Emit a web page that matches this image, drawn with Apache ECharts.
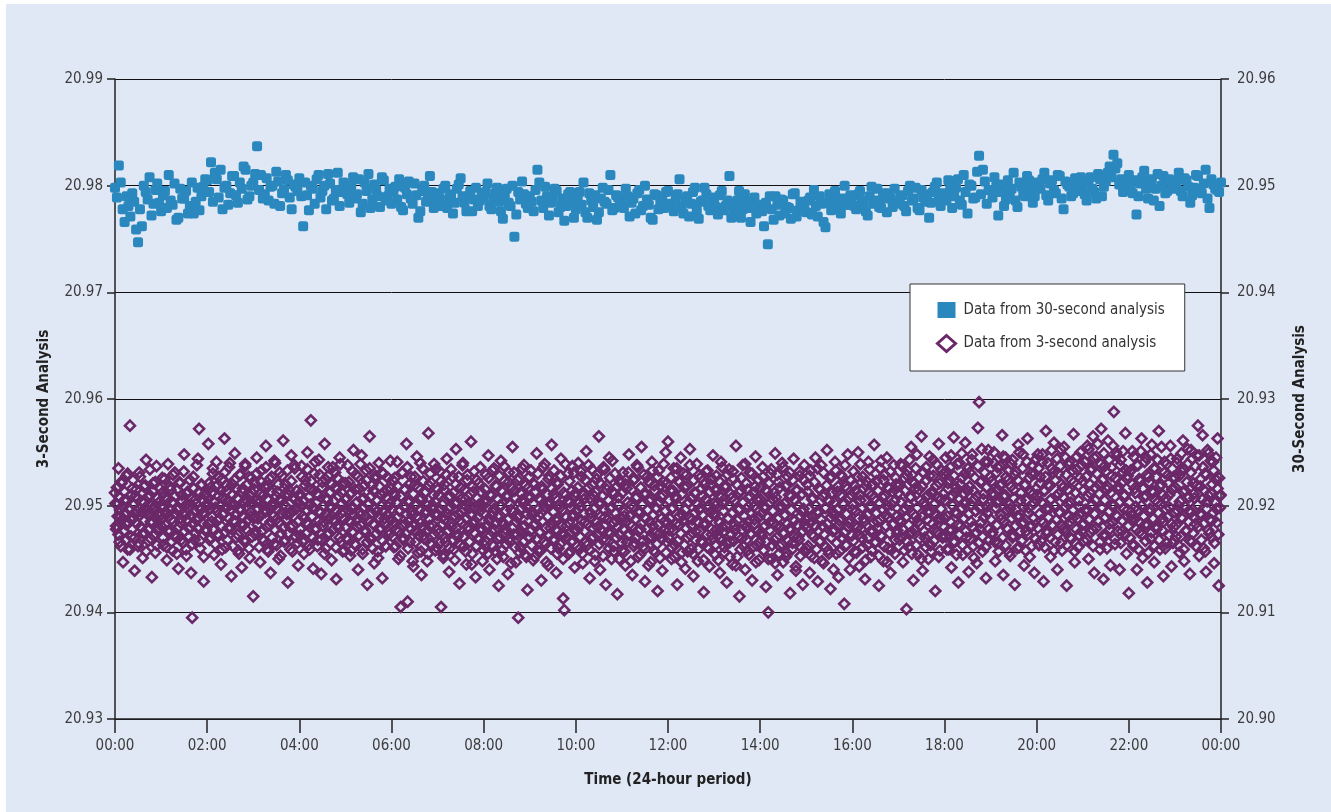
<!DOCTYPE html>
<html>
<head>
<meta charset="utf-8">
<script src="https://cdn.jsdelivr.net/npm/echarts@6/dist/echarts.min.js"></script>
<style>
html,body{margin:0;padding:0;background:#ffffff;}
#wrap{position:absolute;left:6px;top:4px;width:1325px;height:808px;background:#e1e8f5;}
#chart{position:absolute;left:-6px;top:-4px;width:1331px;height:812px;}
</style>
</head>
<body>
<div id="wrap"><div id="chart"></div></div>
<script>
// Sampling of the values (hours)
const blueStepHours = 5 / 60;        // 30-second analysis, run A: every 5 min from 00:00
const blueStepHoursB = 5 / 60;       // 30-second analysis, run B: every 5 min from 00:02:30
const blueStartB = 2.5 / 60;
const purpleStepHours = 1.5 / 60;    // 3-second analysis, scattered envelope
const purpleStepHoursB = 1 / 60;     // 3-second analysis, dense core, from 00:00:30
const purpleStartB = 0.5 / 60;

// Data from 30-second analysis (right axis), set A
const thirtySecondValues = [
20.9498,20.9519,20.9478,20.9490,20.9471,20.9485,20.9447,20.9462,20.9494,20.9508,20.9483,20.9502,
20.9476,20.9495,20.9510,20.9482,20.9468,20.9497,20.9488,20.9474,20.9503,20.9485,20.9477,20.9499,
20.9505,20.9522,20.9512,20.9489,20.9478,20.9500,20.9493,20.9509,20.9484,20.9497,20.9515,20.9490,
20.9503,20.9537,20.9510,20.9492,20.9486,20.9500,20.9513,20.9481,20.9496,20.9505,20.9478,20.9499,
20.9507,20.9462,20.9491,20.9500,20.9483,20.9510,20.9495,20.9478,20.9502,20.9488,20.9512,20.9494,
20.9498,20.9484,20.9508,20.9492,20.9475,20.9503,20.9511,20.9487,20.9496,20.9480,20.9505,20.9490,
20.9483,20.9499,20.9506,20.9477,20.9492,20.9488,20.9502,20.9470,20.9495,20.9485,20.9509,20.9479,
20.9493,20.9481,20.9500,20.9488,20.9474,20.9497,20.9507,20.9484,20.9490,20.9476,20.9498,20.9486,
20.9489,20.9502,20.9478,20.9493,20.9485,20.9469,20.9497,20.9481,20.9452,20.9494,20.9504,20.9483,
20.9490,20.9476,20.9515,20.9486,20.9499,20.9472,20.9488,20.9495,20.9480,20.9467,20.9492,20.9484,
20.9478,20.9494,20.9503,20.9470,20.9486,20.9491,20.9475,20.9498,20.9483,20.9510,20.9479,20.9489,
20.9484,20.9497,20.9471,20.9488,20.9493,20.9477,20.9500,20.9482,20.9468,20.9491,20.9485,20.9479,
20.9495,20.9481,20.9487,20.9506,20.9474,20.9490,20.9483,20.9498,20.9469,20.9486,20.9492,20.9477,
20.9488,20.9473,20.9495,20.9481,20.9509,20.9476,20.9486,20.9470,20.9492,20.9479,20.9485,20.9474,
20.9482,20.9462,20.9445,20.9478,20.9490,20.9472,20.9486,20.9480,20.9469,20.9493,20.9477,20.9484,
20.9475,20.9489,20.9496,20.9471,20.9483,20.9461,20.9492,20.9480,20.9487,20.9474,20.9500,20.9482,
20.9490,20.9478,20.9495,20.9484,20.9472,20.9499,20.9486,20.9480,20.9493,20.9475,20.9488,20.9497,
20.9483,20.9491,20.9476,20.9500,20.9488,20.9479,20.9496,20.9485,20.9470,20.9494,20.9503,20.9481,
20.9492,20.9505,20.9479,20.9498,20.9486,20.9510,20.9474,20.9500,20.9489,20.9528,20.9515,20.9483,
20.9496,20.9508,20.9472,20.9501,20.9487,20.9493,20.9512,20.9480,20.9499,20.9490,20.9505,20.9484,
20.9503,20.9497,20.9512,20.9486,20.9505,20.9493,20.9509,20.9478,20.9501,20.9490,20.9507,20.9495,
20.9499,20.9486,20.9508,20.9494,20.9511,20.9490,20.9504,20.9518,20.9529,20.9521,20.9506,20.9497,
20.9510,20.9493,20.9473,20.9502,20.9514,20.9488,20.9506,20.9497,20.9481,20.9509,20.9495,20.9503,
20.9500,20.9512,20.9490,20.9505,20.9484,20.9498,20.9509,20.9493,20.9515,20.9479,20.9501,20.9496,
20.9503
];

// Data from 30-second analysis (right axis), set B
const thirtySecondValuesB = [
20.9489,20.9503,20.9466,20.9481,20.9493,20.9459,20.9478,20.9500,20.9487,20.9472,20.9496,20.9484,
20.9491,20.9479,20.9486,20.9502,20.9470,20.9488,20.9495,20.9481,20.9474,20.9498,20.9490,20.9506,
20.9494,20.9485,20.9506,20.9515,20.9498,20.9482,20.9509,20.9491,20.9503,20.9518,20.9487,20.9500,
20.9511,20.9496,20.9488,20.9507,20.9499,20.9483,20.9504,20.9493,20.9510,20.9489,20.9501,20.9495,
20.9490,20.9503,20.9477,20.9497,20.9506,20.9489,20.9500,20.9511,20.9486,20.9496,20.9481,20.9503,
20.9492,20.9500,20.9488,20.9506,20.9483,20.9495,20.9479,20.9501,20.9490,20.9508,20.9486,20.9497,
20.9495,20.9487,20.9480,20.9498,20.9504,20.9483,20.9491,20.9476,20.9500,20.9489,20.9494,20.9485,
20.9488,20.9497,20.9479,20.9492,20.9484,20.9501,20.9490,20.9476,20.9495,20.9487,20.9481,20.9493,
20.9494,20.9481,20.9488,20.9498,20.9476,20.9490,20.9484,20.9500,20.9473,20.9487,20.9492,20.9479,
20.9485,20.9496,20.9503,20.9479,20.9490,20.9484,20.9497,20.9475,20.9488,20.9481,20.9494,20.9470,
20.9490,20.9482,20.9475,20.9493,20.9480,20.9468,20.9488,20.9485,20.9496,20.9477,20.9491,20.9483,
20.9479,20.9490,20.9484,20.9474,20.9496,20.9481,20.9487,20.9470,20.9492,20.9478,20.9486,20.9494,
20.9483,20.9476,20.9492,20.9480,20.9488,20.9471,20.9494,20.9477,20.9485,20.9498,20.9481,20.9489,
20.9480,20.9491,20.9477,20.9486,20.9470,20.9483,20.9495,20.9478,20.9484,20.9466,20.9489,20.9481,
20.9476,20.9484,20.9490,20.9468,20.9482,20.9487,20.9474,20.9479,20.9492,20.9471,20.9485,20.9478,
20.9486,20.9473,20.9481,20.9490,20.9466,20.9484,20.9477,20.9495,20.9479,20.9488,20.9482,20.9491,
20.9481,20.9492,20.9486,20.9476,20.9490,20.9483,20.9497,20.9479,20.9488,20.9493,20.9480,20.9485,
20.9490,20.9481,20.9495,20.9486,20.9498,20.9477,20.9489,20.9492,20.9484,20.9499,20.9487,20.9493,
20.9486,20.9497,20.9490,20.9506,20.9482,20.9494,20.9501,20.9488,20.9513,20.9492,20.9504,20.9496,
20.9489,20.9500,20.9494,20.9481,20.9505,20.9497,20.9486,20.9503,20.9492,20.9509,20.9498,20.9490,
20.9498,20.9506,20.9491,20.9502,20.9496,20.9510,20.9488,20.9504,20.9499,20.9493,20.9501,20.9508,
20.9492,20.9503,20.9497,20.9488,20.9506,20.9499,20.9512,20.9508,20.9516,20.9501,20.9494,20.9505,
20.9498,20.9505,20.9490,20.9508,20.9497,20.9502,20.9486,20.9511,20.9500,20.9493,20.9506,20.9497,
20.9504,20.9495,20.9507,20.9499,20.9491,20.9510,20.9496,20.9502,20.9488,20.9506,20.9497,20.9494
];

// Data from 3-second analysis (left axis), scattered envelope, every 1.5 min
const threeSecondValues = [
20.9512,20.9478,20.9501,20.9535,20.9466,20.9490,20.9523,20.9447,20.9505,20.9483,20.9528,20.9459,20.9497,20.9575,20.9471,20.9516,20.9488,20.9439,20.9509,20.9495,20.9462,20.9531,20.9480,20.9504,20.9451,20.9518,20.9474,20.9543,20.9492,20.9467,20.9510,20.9485,20.9433,20.9521,20.9499,20.9456,20.9537,20.9477,20.9503,20.9490,
20.9481,20.9526,20.9463,20.9508,20.9494,20.9449,20.9539,20.9475,20.9515,20.9487,20.9458,20.9502,20.9531,20.9470,20.9496,20.9441,20.9522,20.9484,20.9510,20.9465,20.9548,20.9491,20.9453,20.9513,20.9479,20.9500,20.9437,20.9395,20.9527,20.9468,20.9506,20.9486,20.9544,20.9572,20.9460,20.9519,20.9493,20.9429,20.9511,20.9476,
20.9502,20.9558,20.9468,20.9517,20.9485,20.9530,20.9454,20.9498,20.9541,20.9473,20.9509,20.9488,20.9445,20.9525,20.9492,20.9563,20.9461,20.9514,20.9479,20.9536,20.9501,20.9434,20.9520,20.9486,20.9549,20.9470,20.9507,20.9458,20.9529,20.9495,20.9442,20.9516,20.9482,20.9539,20.9467,20.9504,20.9527,20.9451,20.9490,20.9512,
20.9415,20.9521,20.9476,20.9545,20.9488,20.9503,20.9447,20.9533,20.9469,20.9510,20.9496,20.9556,20.9459,20.9518,20.9482,20.9437,20.9527,20.9499,20.9464,20.9540,20.9487,20.9513,20.9450,20.9531,20.9474,20.9505,20.9561,20.9466,20.9520,20.9492,20.9428,20.9515,20.9480,20.9547,20.9457,20.9508,20.9535,20.9471,20.9498,20.9444,
20.9509,20.9472,20.9537,20.9490,20.9455,20.9524,20.9484,20.9550,20.9463,20.9516,20.9580,20.9498,20.9441,20.9530,20.9477,20.9511,20.9468,20.9543,20.9493,20.9436,20.9522,20.9485,20.9558,20.9460,20.9505,20.9528,20.9474,20.9500,20.9449,20.9536,20.9487,20.9517,20.9431,20.9526,20.9479,20.9545,20.9466,20.9512,20.9495,20.9458,
20.9521,20.9470,20.9538,20.9486,20.9453,20.9512,20.9497,20.9552,20.9464,20.9529,20.9480,20.9440,20.9516,20.9491,20.9547,20.9459,20.9507,20.9475,20.9533,20.9426,20.9502,20.9565,20.9468,20.9519,20.9483,20.9446,20.9525,20.9494,20.9457,20.9540,20.9477,20.9510,20.9432,20.9530,20.9488,20.9462,20.9515,20.9499,20.9473,20.9542,
20.9487,20.9524,20.9461,20.9509,20.9478,20.9541,20.9450,20.9496,20.9405,20.9531,20.9470,20.9515,20.9483,20.9558,20.9410,20.9503,20.9466,20.9527,20.9491,20.9443,20.9519,20.9476,20.9546,20.9456,20.9506,20.9484,20.9435,20.9535,20.9472,20.9512,20.9495,20.9448,20.9568,20.9481,20.9522,20.9463,20.9500,20.9539,20.9458,20.9493,
20.9515,20.9474,20.9532,20.9405,20.9489,20.9451,20.9520,20.9466,20.9544,20.9497,20.9438,20.9509,20.9480,20.9527,20.9459,20.9502,20.9553,20.9471,20.9492,20.9427,20.9517,20.9484,20.9540,20.9462,20.9506,20.9445,20.9529,20.9477,20.9498,20.9560,20.9455,20.9513,20.9486,20.9433,20.9524,20.9469,20.9501,20.9536,20.9479,20.9448,
20.9504,20.9463,20.9529,20.9482,20.9547,20.9440,20.9511,20.9476,20.9494,20.9535,20.9457,20.9518,20.9469,20.9425,20.9500,20.9542,20.9485,20.9452,20.9523,20.9478,20.9508,20.9436,20.9531,20.9466,20.9496,20.9555,20.9473,20.9514,20.9447,20.9489,20.9395,20.9526,20.9461,20.9505,20.9480,20.9538,20.9454,20.9499,20.9421,20.9517,
20.9470,20.9533,20.9491,20.9449,20.9520,20.9483,20.9549,20.9458,20.9507,20.9475,20.9430,20.9515,20.9496,20.9539,20.9464,20.9502,20.9444,20.9528,20.9479,20.9557,20.9468,20.9511,20.9487,20.9437,20.9522,20.9460,20.9498,20.9544,20.9473,20.9413,20.9402,20.9510,20.9481,20.9530,20.9455,20.9503,20.9466,20.9537,20.9490,20.9442,
20.9512,20.9477,20.9540,20.9459,20.9499,20.9527,20.9446,20.9506,20.9485,20.9551,20.9463,20.9517,20.9432,20.9493,20.9534,20.9471,20.9509,20.9454,20.9525,20.9480,20.9565,20.9440,20.9502,20.9468,20.9536,20.9489,20.9426,20.9519,20.9475,20.9545,20.9497,20.9450,20.9513,20.9462,20.9530,20.9486,20.9417,20.9508,20.9473,20.9521,
20.9458,20.9531,20.9490,20.9444,20.9516,20.9472,20.9548,20.9483,20.9501,20.9435,20.9524,20.9465,20.9507,20.9538,20.9452,20.9495,20.9478,20.9555,20.9461,20.9511,20.9429,20.9488,20.9527,20.9469,20.9504,20.9447,20.9541,20.9481,20.9519,20.9456,20.9497,20.9420,20.9533,20.9474,20.9508,20.9439,20.9522,20.9485,20.9550,20.9466,
20.9560,20.9477,20.9514,20.9450,20.9498,20.9535,20.9463,20.9506,20.9426,20.9523,20.9482,20.9545,20.9456,20.9491,20.9517,20.9441,20.9529,20.9470,20.9503,20.9553,20.9459,20.9487,20.9434,20.9512,20.9476,20.9539,20.9448,20.9496,20.9526,20.9467,20.9509,20.9419,20.9484,20.9532,20.9461,20.9500,20.9443,20.9520,20.9473,20.9547,
20.9493,20.9454,20.9528,20.9472,20.9510,20.9437,20.9541,20.9480,20.9502,20.9461,20.9519,20.9428,20.9488,20.9534,20.9466,20.9507,20.9445,20.9525,20.9477,20.9556,20.9452,20.9496,20.9415,20.9514,20.9469,20.9538,20.9483,20.9440,20.9521,20.9458,20.9499,20.9531,20.9474,20.9430,20.9512,20.9487,20.9546,20.9463,20.9505,20.9449,
20.9517,20.9475,20.9536,20.9458,20.9497,20.9424,20.9513,20.9400,20.9484,20.9530,20.9450,20.9506,20.9468,20.9549,20.9481,20.9435,20.9522,20.9462,20.9500,20.9540,20.9447,20.9491,20.9518,20.9456,20.9527,20.9478,20.9418,20.9509,20.9465,20.9544,20.9486,20.9439,20.9515,20.9471,20.9532,20.9453,20.9495,20.9426,20.9524,20.9482,
20.9460,20.9520,20.9489,20.9437,20.9533,20.9473,20.9507,20.9451,20.9545,20.9494,20.9429,20.9516,20.9467,20.9538,20.9481,20.9446,20.9511,20.9498,20.9552,20.9458,20.9504,20.9422,20.9527,20.9476,20.9491,20.9541,20.9455,20.9513,20.9433,20.9486,20.9529,20.9470,20.9502,20.9408,20.9518,20.9463,20.9548,20.9484,20.9440,20.9510,
20.9496,20.9532,20.9457,20.9514,20.9479,20.9550,20.9443,20.9505,20.9470,20.9527,20.9488,20.9431,20.9519,20.9463,20.9541,20.9499,20.9452,20.9510,20.9476,20.9557,20.9466,20.9523,20.9485,20.9425,20.9535,20.9472,20.9508,20.9448,20.9529,20.9491,20.9545,20.9460,20.9516,20.9437,20.9501,20.9482,20.9538,20.9455,20.9520,20.9474,
20.9512,20.9468,20.9539,20.9485,20.9447,20.9526,20.9497,20.9403,20.9533,20.9461,20.9508,20.9555,20.9475,20.9430,20.9521,20.9490,20.9548,20.9454,20.9515,20.9482,20.9565,20.9439,20.9503,20.9470,20.9536,20.9494,20.9450,20.9528,20.9463,20.9511,20.9543,20.9478,20.9420,20.9519,20.9487,20.9558,20.9458,20.9506,20.9472,20.9530,
20.9488,20.9545,20.9459,20.9521,20.9477,20.9536,20.9442,20.9509,20.9564,20.9466,20.9517,20.9493,20.9428,20.9540,20.9481,20.9526,20.9454,20.9502,20.9559,20.9470,20.9514,20.9438,20.9531,20.9485,20.9548,20.9462,20.9506,20.9495,20.9446,20.9573,20.9597,20.9478,20.9523,20.9457,20.9511,20.9541,20.9432,20.9499,20.9552,20.9468,
20.9527,20.9473,20.9512,20.9550,20.9448,20.9503,20.9536,20.9465,20.9519,20.9487,20.9566,20.9435,20.9508,20.9545,20.9479,20.9524,20.9456,20.9497,20.9539,20.9470,20.9515,20.9426,20.9532,20.9490,20.9557,20.9461,20.9505,20.9483,20.9548,20.9444,20.9520,20.9476,20.9563,20.9498,20.9452,20.9530,20.9481,20.9511,20.9437,20.9543,
20.9505,20.9548,20.9463,20.9527,20.9486,20.9541,20.9429,20.9514,20.9570,20.9474,20.9520,20.9497,20.9452,20.9535,20.9481,20.9559,20.9466,20.9509,20.9440,20.9530,20.9493,20.9553,20.9458,20.9517,20.9479,20.9545,20.9425,20.9502,20.9538,20.9470,20.9524,20.9488,20.9567,20.9447,20.9512,20.9534,20.9461,20.9499,20.9550,20.9476,
20.9523,20.9467,20.9541,20.9494,20.9556,20.9450,20.9512,20.9533,20.9478,20.9565,20.9437,20.9505,20.9546,20.9486,20.9520,20.9459,20.9572,20.9498,20.9431,20.9537,20.9472,20.9515,20.9561,20.9483,20.9444,20.9528,20.9501,20.9588,20.9464,20.9550,20.9490,20.9518,20.9440,20.9543,20.9476,20.9531,20.9509,20.9568,20.9455,20.9496,
20.9418,20.9532,20.9487,20.9551,20.9462,20.9516,20.9499,20.9440,20.9538,20.9475,20.9523,20.9563,20.9451,20.9508,20.9482,20.9545,20.9428,20.9527,20.9494,20.9469,20.9557,20.9512,20.9447,20.9535,20.9478,20.9503,20.9570,20.9459,20.9520,20.9488,20.9434,20.9541,20.9497,20.9465,20.9529,20.9510,20.9556,20.9443,20.9516,20.9480,
20.9526,20.9471,20.9544,20.9500,20.9456,20.9533,20.9489,20.9561,20.9448,20.9514,20.9477,20.9539,20.9495,20.9436,20.9552,20.9466,20.9521,20.9507,20.9483,20.9547,20.9575,20.9453,20.9518,20.9491,20.9566,20.9460,20.9530,20.9438,20.9504,20.9549,20.9474,20.9512,20.9486,20.9541,20.9446,20.9525,20.9497,20.9563,20.9425,20.9509
];

// Data from 3-second analysis (left axis), dense core, every 1 min
const threeSecondValuesB = [
20.9502,20.9481,20.9517,20.9490,20.9473,20.9508,20.9496,20.9462,20.9521,20.9487,20.9499,20.9476,20.9513,20.9493,20.9468,20.9505,20.9530,20.9484,20.9497,20.9459,20.9510,20.9489,20.9478,20.9524,20.9501,20.9470,20.9492,20.9515,20.9483,20.9506,20.9465,20.9498,20.9527,20.9480,20.9494,20.9511,20.9474,20.9503,20.9486,20.9519,20.9457,20.9495,20.9508,20.9477,20.9491,20.9534,20.9469,20.9500,20.9485,20.9514,20.9472,20.9497,20.9522,20.9488,20.9463,20.9507,20.9493,20.9479,20.9516,20.9499,
20.9487,20.9512,20.9470,20.9499,20.9525,20.9482,20.9494,20.9461,20.9506,20.9490,20.9477,20.9518,20.9496,20.9466,20.9503,20.9529,20.9485,20.9473,20.9509,20.9492,20.9455,20.9515,20.9498,20.9480,20.9521,20.9488,20.9468,20.9504,20.9493,20.9532,20.9476,20.9500,20.9459,20.9511,20.9486,20.9497,20.9471,20.9524,20.9491,20.9507,20.9464,20.9483,20.9516,20.9495,20.9474,20.9502,20.9538,20.9479,20.9489,20.9513,20.9467,20.9496,20.9520,20.9484,20.9505,20.9452,20.9493,20.9510,20.9478,20.9499,
20.9508,20.9483,20.9521,20.9497,20.9470,20.9512,20.9490,20.9535,20.9477,20.9503,20.9464,20.9518,20.9495,20.9486,20.9527,20.9472,20.9500,20.9514,20.9481,20.9459,20.9507,20.9493,20.9531,20.9475,20.9498,20.9519,20.9468,20.9505,20.9488,20.9540,20.9479,20.9496,20.9510,20.9462,20.9501,20.9524,20.9485,20.9492,20.9516,20.9473,20.9506,20.9455,20.9497,20.9529,20.9482,20.9513,20.9490,20.9467,20.9503,20.9537,20.9478,20.9499,20.9520,20.9487,20.9460,20.9509,20.9494,20.9526,20.9471,20.9502,
20.9489,20.9515,20.9473,20.9504,20.9530,20.9482,20.9497,20.9461,20.9511,20.9491,20.9522,20.9476,20.9500,20.9467,20.9518,20.9494,20.9536,20.9480,20.9506,20.9457,20.9498,20.9525,20.9485,20.9513,20.9470,20.9502,20.9490,20.9542,20.9477,20.9509,20.9463,20.9496,20.9520,20.9484,20.9505,20.9453,20.9493,20.9528,20.9479,20.9501,20.9516,20.9468,20.9499,20.9487,20.9533,20.9474,20.9510,20.9492,20.9459,20.9523,20.9495,20.9481,20.9507,20.9538,20.9471,20.9497,20.9514,20.9465,20.9503,20.9486,
20.9511,20.9478,20.9499,20.9527,20.9466,20.9505,20.9488,20.9519,20.9474,20.9496,20.9534,20.9483,20.9508,20.9459,20.9501,20.9523,20.9490,20.9470,20.9514,20.9497,20.9541,20.9479,20.9503,20.9462,20.9510,20.9486,20.9529,20.9494,20.9468,20.9517,20.9481,20.9500,20.9455,20.9525,20.9492,20.9507,20.9473,20.9536,20.9488,20.9512,20.9465,20.9498,20.9520,20.9477,20.9504,20.9485,20.9531,20.9461,20.9495,20.9516,20.9482,20.9509,20.9470,20.9539,20.9493,20.9502,20.9457,20.9521,20.9487,20.9506,
20.9480,20.9507,20.9468,20.9496,20.9522,20.9485,20.9511,20.9458,20.9499,20.9532,20.9475,20.9491,20.9515,20.9463,20.9503,20.9488,20.9527,20.9472,20.9494,20.9539,20.9481,20.9506,20.9455,20.9498,20.9519,20.9477,20.9490,20.9524,20.9466,20.9501,20.9486,20.9535,20.9470,20.9509,20.9493,20.9460,20.9514,20.9482,20.9497,20.9528,20.9474,20.9505,20.9451,20.9489,20.9518,20.9479,20.9500,20.9531,20.9467,20.9495,20.9512,20.9484,20.9462,20.9508,20.9491,20.9526,20.9476,20.9502,20.9487,20.9516,
20.9497,20.9471,20.9512,20.9484,20.9526,20.9462,20.9503,20.9489,20.9518,20.9476,20.9495,20.9453,20.9509,20.9481,20.9531,20.9468,20.9499,20.9515,20.9474,20.9492,20.9536,20.9460,20.9505,20.9486,20.9521,20.9478,20.9494,20.9448,20.9511,20.9483,20.9527,20.9466,20.9501,20.9490,20.9517,20.9472,20.9496,20.9540,20.9457,20.9507,20.9480,20.9523,20.9469,20.9493,20.9513,20.9476,20.9500,20.9455,20.9519,20.9487,20.9530,20.9464,20.9498,20.9482,20.9510,20.9473,20.9504,20.9534,20.9461,20.9491,
20.9478,20.9510,20.9465,20.9496,20.9523,20.9482,20.9501,20.9454,20.9515,20.9487,20.9470,20.9529,20.9492,20.9476,20.9508,20.9460,20.9499,20.9534,20.9484,20.9468,20.9512,20.9490,20.9449,20.9520,20.9479,20.9503,20.9473,20.9527,20.9486,20.9463,20.9506,20.9494,20.9538,20.9471,20.9497,20.9515,20.9457,20.9488,20.9524,20.9480,20.9502,20.9466,20.9511,20.9491,20.9445,20.9518,20.9483,20.9532,20.9474,20.9498,20.9462,20.9507,20.9489,20.9521,20.9469,20.9495,20.9513,20.9477,20.9500,20.9458,
20.9493,20.9467,20.9515,20.9480,20.9504,20.9455,20.9526,20.9486,20.9472,20.9509,20.9491,20.9533,20.9462,20.9497,20.9477,20.9519,20.9484,20.9450,20.9506,20.9489,20.9528,20.9470,20.9500,20.9458,20.9513,20.9482,20.9537,20.9474,20.9495,20.9464,20.9510,20.9487,20.9522,20.9469,20.9501,20.9446,20.9517,20.9479,20.9494,20.9531,20.9461,20.9507,20.9485,20.9473,20.9524,20.9490,20.9456,20.9512,20.9476,20.9498,20.9535,20.9466,20.9503,20.9481,20.9519,20.9452,20.9492,20.9508,20.9471,20.9527,
20.9476,20.9508,20.9463,20.9494,20.9521,20.9482,20.9452,20.9513,20.9488,20.9469,20.9530,20.9497,20.9475,20.9505,20.9458,20.9518,20.9485,20.9536,20.9466,20.9499,20.9479,20.9447,20.9511,20.9490,20.9525,20.9472,20.9502,20.9460,20.9516,20.9483,20.9494,20.9533,20.9468,20.9507,20.9478,20.9455,20.9520,20.9487,20.9501,20.9464,20.9528,20.9481,20.9496,20.9450,20.9512,20.9473,20.9539,20.9489,20.9470,20.9504,20.9484,20.9523,20.9457,20.9498,20.9514,20.9467,20.9492,20.9531,20.9477,20.9509,
20.9495,20.9462,20.9517,20.9480,20.9503,20.9471,20.9532,20.9486,20.9455,20.9510,20.9492,20.9476,20.9524,20.9466,20.9500,20.9483,20.9538,20.9459,20.9507,20.9488,20.9469,20.9519,20.9479,20.9497,20.9448,20.9513,20.9485,20.9529,20.9473,20.9502,20.9464,20.9521,20.9490,20.9477,20.9509,20.9453,20.9496,20.9534,20.9482,20.9468,20.9515,20.9487,20.9505,20.9460,20.9526,20.9474,20.9499,20.9542,20.9484,20.9457,20.9511,20.9493,20.9470,20.9518,20.9480,20.9501,20.9450,20.9523,20.9489,20.9465,
20.9512,20.9478,20.9494,20.9457,20.9520,20.9485,20.9466,20.9503,20.9531,20.9473,20.9490,20.9448,20.9515,20.9481,20.9499,20.9462,20.9525,20.9487,20.9470,20.9508,20.9536,20.9476,20.9493,20.9454,20.9517,20.9483,20.9501,20.9467,20.9529,20.9489,20.9460,20.9511,20.9479,20.9496,20.9444,20.9522,20.9485,20.9506,20.9471,20.9533,20.9491,20.9458,20.9514,20.9475,20.9498,20.9464,20.9527,20.9482,20.9503,20.9451,20.9519,20.9488,20.9469,20.9510,20.9539,20.9477,20.9495,20.9456,20.9521,20.9484,
20.9470,20.9505,20.9488,20.9526,20.9461,20.9497,20.9514,20.9477,20.9452,20.9509,20.9483,20.9535,20.9467,20.9500,20.9490,20.9522,20.9474,20.9447,20.9511,20.9486,20.9530,20.9463,20.9496,20.9479,20.9518,20.9457,20.9503,20.9489,20.9538,20.9472,20.9507,20.9481,20.9455,20.9524,20.9493,20.9468,20.9512,20.9485,20.9501,20.9459,20.9529,20.9476,20.9498,20.9516,20.9465,20.9491,20.9449,20.9520,20.9482,20.9506,20.9473,20.9533,20.9487,20.9460,20.9513,20.9494,20.9478,20.9525,20.9469,20.9502,
20.9491,20.9463,20.9514,20.9478,20.9502,20.9449,20.9523,20.9484,20.9470,20.9508,20.9536,20.9475,20.9495,20.9456,20.9517,20.9481,20.9465,20.9529,20.9488,20.9500,20.9452,20.9511,20.9473,20.9493,20.9532,20.9467,20.9505,20.9482,20.9444,20.9520,20.9486,20.9471,20.9512,20.9497,20.9459,20.9526,20.9477,20.9503,20.9462,20.9490,20.9539,20.9480,20.9468,20.9515,20.9485,20.9454,20.9509,20.9494,20.9473,20.9530,20.9461,20.9499,20.9483,20.9518,20.9447,20.9506,20.9476,20.9524,20.9489,20.9466,
20.9506,20.9472,20.9493,20.9527,20.9458,20.9499,20.9481,20.9515,20.9466,20.9489,20.9450,20.9521,20.9477,20.9503,20.9534,20.9463,20.9495,20.9484,20.9512,20.9446,20.9508,20.9470,20.9529,20.9488,20.9455,20.9517,20.9480,20.9498,20.9464,20.9536,20.9475,20.9502,20.9491,20.9452,20.9519,20.9483,20.9467,20.9510,20.9531,20.9478,20.9496,20.9459,20.9524,20.9486,20.9471,20.9505,20.9443,20.9514,20.9482,20.9500,20.9468,20.9528,20.9490,20.9461,20.9511,20.9476,20.9497,20.9538,20.9457,20.9487,
20.9479,20.9513,20.9462,20.9497,20.9528,20.9484,20.9453,20.9506,20.9490,20.9471,20.9522,20.9481,20.9500,20.9459,20.9535,20.9476,20.9494,20.9466,20.9515,20.9487,20.9448,20.9509,20.9531,20.9473,20.9498,20.9461,20.9519,20.9483,20.9505,20.9455,20.9526,20.9489,20.9470,20.9512,20.9494,20.9440,20.9503,20.9477,20.9533,20.9465,20.9496,20.9518,20.9482,20.9457,20.9510,20.9488,20.9527,20.9469,20.9501,20.9475,20.9538,20.9463,20.9492,20.9516,20.9480,20.9451,20.9507,20.9486,20.9524,20.9472,
20.9501,20.9467,20.9519,20.9482,20.9495,20.9456,20.9527,20.9488,20.9473,20.9510,20.9539,20.9478,20.9498,20.9461,20.9516,20.9485,20.9505,20.9449,20.9523,20.9491,20.9470,20.9512,20.9534,20.9476,20.9499,20.9458,20.9520,20.9484,20.9507,20.9465,20.9530,20.9493,20.9479,20.9514,20.9453,20.9502,20.9487,20.9542,20.9471,20.9496,20.9524,20.9462,20.9509,20.9481,20.9500,20.9447,20.9517,20.9489,20.9474,20.9532,20.9494,20.9459,20.9513,20.9483,20.9504,20.9468,20.9526,20.9490,20.9477,20.9518,
20.9486,20.9520,20.9471,20.9503,20.9537,20.9478,20.9495,20.9458,20.9514,20.9489,20.9529,20.9466,20.9501,20.9482,20.9543,20.9474,20.9508,20.9455,20.9522,20.9492,20.9477,20.9516,20.9535,20.9463,20.9498,20.9485,20.9526,20.9469,20.9505,20.9450,20.9518,20.9490,20.9531,20.9476,20.9500,20.9461,20.9524,20.9487,20.9510,20.9472,20.9546,20.9494,20.9457,20.9513,20.9483,20.9528,20.9467,20.9502,20.9491,20.9539,20.9475,20.9507,20.9452,20.9521,20.9488,20.9497,20.9533,20.9470,20.9511,20.9480,
20.9505,20.9471,20.9532,20.9490,20.9516,20.9459,20.9524,20.9485,20.9547,20.9477,20.9500,20.9466,20.9528,20.9494,20.9512,20.9454,20.9539,20.9482,20.9507,20.9473,20.9520,20.9497,20.9549,20.9463,20.9511,20.9488,20.9530,20.9476,20.9503,20.9458,20.9535,20.9492,20.9518,20.9469,20.9501,20.9543,20.9480,20.9514,20.9451,20.9526,20.9495,20.9475,20.9509,20.9537,20.9465,20.9498,20.9522,20.9484,20.9553,20.9471,20.9506,20.9489,20.9531,20.9461,20.9517,20.9493,20.9541,20.9478,20.9502,20.9527,
20.9487,20.9523,20.9475,20.9509,20.9540,20.9466,20.9498,20.9531,20.9482,20.9515,20.9457,20.9504,20.9537,20.9491,20.9520,20.9470,20.9546,20.9485,20.9510,20.9463,20.9527,20.9496,20.9478,20.9533,20.9501,20.9453,20.9518,20.9488,20.9543,20.9472,20.9507,20.9529,20.9481,20.9496,20.9460,20.9524,20.9490,20.9550,20.9476,20.9512,20.9467,20.9535,20.9499,20.9484,20.9519,20.9458,20.9505,20.9541,20.9473,20.9493,20.9526,20.9480,20.9513,20.9462,20.9538,20.9489,20.9502,20.9530,20.9469,20.9516,
20.9510,20.9479,20.9535,20.9492,20.9521,20.9467,20.9503,20.9548,20.9484,20.9514,20.9461,20.9527,20.9497,20.9476,20.9540,20.9489,20.9518,20.9470,20.9506,20.9552,20.9482,20.9531,20.9458,20.9500,20.9524,20.9487,20.9544,20.9473,20.9511,20.9494,20.9537,20.9465,20.9520,20.9481,20.9508,20.9555,20.9476,20.9499,20.9529,20.9463,20.9515,20.9490,20.9541,20.9485,20.9503,20.9469,20.9533,20.9496,20.9522,20.9457,20.9512,20.9478,20.9546,20.9488,20.9505,20.9472,20.9526,20.9493,20.9538,20.9482,
20.9514,20.9483,20.9541,20.9496,20.9527,20.9468,20.9509,20.9553,20.9487,20.9520,20.9475,20.9535,20.9501,20.9462,20.9545,20.9492,20.9517,20.9479,20.9530,20.9558,20.9485,20.9511,20.9466,20.9539,20.9498,20.9524,20.9472,20.9549,20.9505,20.9489,20.9532,20.9460,20.9518,20.9494,20.9543,20.9478,20.9512,20.9536,20.9484,20.9556,20.9500,20.9469,20.9526,20.9491,20.9547,20.9476,20.9515,20.9503,20.9538,20.9465,20.9521,20.9486,20.9551,20.9497,20.9510,20.9473,20.9533,20.9490,20.9528,20.9481,
20.9503,20.9470,20.9533,20.9491,20.9520,20.9464,20.9546,20.9487,20.9512,20.9478,20.9538,20.9496,20.9459,20.9525,20.9484,20.9551,20.9500,20.9473,20.9516,20.9490,20.9541,20.9467,20.9509,20.9529,20.9482,20.9456,20.9522,20.9497,20.9548,20.9475,20.9514,20.9488,20.9535,20.9462,20.9505,20.9527,20.9480,20.9543,20.9493,20.9468,20.9518,20.9501,20.9555,20.9477,20.9510,20.9485,20.9531,20.9460,20.9507,20.9539,20.9489,20.9521,20.9472,20.9498,20.9544,20.9483,20.9515,20.9465,20.9527,20.9494,
20.9517,20.9482,20.9540,20.9495,20.9463,20.9528,20.9504,20.9471,20.9549,20.9488,20.9513,20.9459,20.9534,20.9499,20.9476,20.9522,20.9553,20.9485,20.9508,20.9467,20.9531,20.9494,20.9544,20.9474,20.9511,20.9489,20.9537,20.9462,20.9519,20.9501,20.9480,20.9547,20.9492,20.9525,20.9468,20.9506,20.9536,20.9483,20.9514,20.9457,20.9529,20.9497,20.9552,20.9477,20.9509,20.9487,20.9542,20.9470,20.9520,20.9493,20.9533,20.9465,20.9503,20.9545,20.9484,20.9516,20.9473,20.9526,20.9498,20.9510
];

// Axis ranges / ticks
const xTickHours = [0, 2, 4, 6, 8, 10, 12, 14, 16, 18, 20, 22, 24];
const leftAxisMin = 20.93, leftAxisMax = 20.99;
const rightAxisMin = 20.90, rightAxisMax = 20.96;
const yInterval = 0.01;

const seriesNames = ['Data from 30-second analysis', 'Data from 3-second analysis'];
const axisNames = ['3-Second Analysis', '30-Second Analysis', 'Time (24-hour period)'];

const FONT = "'Liberation Sans Narrow', 'DejaVu Sans Condensed', 'Roboto', sans-serif";
const BLUE = '#2a88be';
const PURPLE = '#6b2868';

const blueData = thirtySecondValues.map((v, i) => [i * blueStepHours, v])
  .concat(thirtySecondValuesB.map((v, i) => [blueStartB + i * blueStepHoursB, v]));
const purpleData = threeSecondValuesB.map((v, i) => [purpleStartB + i * purpleStepHoursB, v])
  .concat(threeSecondValues.map((v, i) => [i * purpleStepHours, v]));

function fmtHour(h) {
  const hh = Math.round(h) % 24;
  return (hh < 10 ? '0' : '') + hh + ':00';
}

const chart = echarts.init(document.getElementById('chart'), null, { renderer: 'canvas' });
chart.setOption({
  backgroundColor: 'transparent',
  animation: false,
  textStyle: { fontFamily: FONT },
  grid: { left: 115, right: 110, top: 79, bottom: 93, containLabel: false },
  legend: {
    orient: 'vertical',
    left: 910, top: 284,
    padding: [18, 20, 18, 26],
    itemGap: 16,
    itemWidth: 18, itemHeight: 16,
    backgroundColor: '#ffffff',
    borderColor: '#333333', borderWidth: 1,
    textStyle: { fontFamily: FONT, fontSize: 15, color: '#333333', padding: [0, 0, 0, 3] },
    data: [
      { name: seriesNames[0], icon: 'rect', itemStyle: { color: BLUE, borderWidth: 0, opacity: 1 } },
      { name: seriesNames[1], icon: 'diamond', itemStyle: { color: '#ffffff', borderColor: PURPLE, borderWidth: 3, opacity: 1 } }
    ]
  },
  xAxis: {
    type: 'value', min: 0, max: 24, interval: 2,
    axisLine: { show: true, lineStyle: { color: '#222', width: 1.5 } },
    axisTick: { show: true, length: 14, lineStyle: { color: '#222', width: 1.5 } },
    splitLine: { show: false },
    axisLabel: { formatter: fmtHour, fontFamily: FONT, fontSize: 15, color: '#3c3c3c', margin: 20 },
    name: axisNames[2], nameLocation: 'middle', nameGap: 54,
    nameTextStyle: { fontFamily: FONT, fontSize: 15, fontWeight: 'bold', color: '#222' }
  },
  yAxis: [
    {
      type: 'value', position: 'left', min: leftAxisMin, max: leftAxisMax, interval: yInterval,
      axisLine: { show: true, lineStyle: { color: '#222', width: 1.5 } },
      axisTick: { show: true, length: 8, lineStyle: { color: '#222', width: 1.5 } },
      splitLine: { show: true, lineStyle: { color: '#111', width: 1 } },
      axisLabel: { formatter: v => v.toFixed(2), fontFamily: FONT, fontSize: 15, color: '#3c3c3c', margin: 12 },
      name: axisNames[0], nameLocation: 'middle', nameGap: 63, nameRotate: 90,
      nameTextStyle: { fontFamily: FONT, fontSize: 15, fontWeight: 'bold', color: '#222' }
    },
    {
      type: 'value', position: 'right', min: rightAxisMin, max: rightAxisMax, interval: yInterval,
      axisLine: { show: true, lineStyle: { color: '#222', width: 1.5 } },
      axisTick: { show: true, length: 8, lineStyle: { color: '#222', width: 1.5 } },
      splitLine: { show: false },
      axisLabel: { formatter: v => v.toFixed(2), fontFamily: FONT, fontSize: 15, color: '#3c3c3c', margin: 16 },
      name: axisNames[1], nameLocation: 'middle', nameGap: 72, nameRotate: 90,
      nameTextStyle: { fontFamily: FONT, fontSize: 15, fontWeight: 'bold', color: '#222' }
    }
  ],
  series: [
    {
      name: seriesNames[0], type: 'scatter', yAxisIndex: 1, data: blueData,
      symbol: 'roundRect', symbolSize: 10, large: false,
      itemStyle: { color: BLUE, opacity: 1 },
      z: 3
    },
    {
      name: seriesNames[1], type: 'scatter', yAxisIndex: 0, data: purpleData,
      symbol: 'diamond', symbolSize: 10, large: false,
      itemStyle: { color: 'rgba(255,255,255,0)', borderColor: PURPLE, borderWidth: 2.6, opacity: 1 },
      z: 2
    }
  ]
});
</script>
</body>
</html>
